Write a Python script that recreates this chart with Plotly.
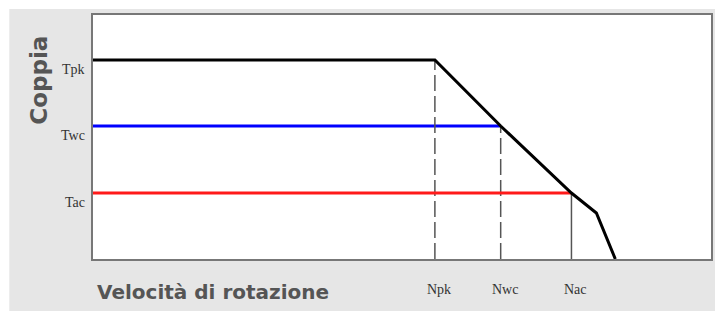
import plotly.graph_objects as go

# ---- data (chart units: x = speed, y = torque) ----
torque_labels = ["Tpk", "Twc", "Tac"]
torque_values = [199, 133, 66]
speed_labels = ["Npk", "Nwc", "Nac"]
speed_values = [343, 409, 480]
curve_x = [0, 343, 409, 480, 505, 524]
curve_y = [199, 199, 133, 66, 46, 0]

X_MAX = 620
Y_MAX = 244

fig = go.Figure()

# horizontal continuous-torque lines
fig.add_trace(go.Scatter(x=[0, speed_values[1]], y=[torque_values[1]] * 2, mode="lines",
                         line=dict(color="#0000ff", width=3), hoverinfo="skip"))

# vertical speed markers
dashes = ["16px,5px", "16px,5px", "solid"]
for sx, ty, d in zip(speed_values, torque_values, dashes):
    fig.add_trace(go.Scatter(x=[sx, sx], y=[0, ty], mode="lines",
                             line=dict(color="#555555", width=1.5, dash=d), hoverinfo="skip"))

# red line (over the dashed markers)
fig.add_trace(go.Scatter(x=[0, speed_values[2]], y=[torque_values[2]] * 2, mode="lines",
                         line=dict(color="#ff1a1a", width=3), hoverinfo="skip"))

# peak torque curve
fig.add_trace(go.Scatter(x=curve_x, y=curve_y, mode="lines",
                         line=dict(color="#000000", width=3), hoverinfo="skip"))

# tick labels as annotations
for lab, ty in zip(torque_labels, torque_values):
    fig.add_annotation(x=0, y=ty, xref="paper", yref="y", text=lab, showarrow=False,
                       xanchor="right", yanchor="middle", xshift=-6, yshift=-9,
                       font=dict(family="Liberation Serif", size=14, color="#333333"))
for lab, sx in zip(speed_labels, speed_values):
    fig.add_annotation(x=sx, y=0, xref="x", yref="paper", text=lab, showarrow=False,
                       xanchor="center", yanchor="middle", xshift=4, yshift=-30,
                       font=dict(family="Liberation Serif", size=14, color="#333333"))

# axis titles
fig.add_annotation(x=(38.5 - 93) / 620, y=(259 - 80) / 244, xref="paper", yref="paper",
                   text="<b>Coppia</b>", showarrow=False, textangle=-90,
                   xanchor="center", yanchor="middle",
                   font=dict(family="DejaVu Sans", size=23, color="#555555"))
fig.add_annotation(x=(213.5 - 93) / 620, y=(259 - 292) / 244, xref="paper", yref="paper",
                   text="<b>Velocità di rotazione</b>", showarrow=False,
                   xanchor="center", yanchor="middle",
                   font=dict(family="DejaVu Sans", size=20, color="#555555"))

# white strips outside the gray panel
fig.add_shape(type="rect", xref="paper", yref="paper", x0=-100 / 620, x1=(9 - 93) / 620,
              y0=-1, y1=2, fillcolor="white", line=dict(width=0), layer="above")
fig.add_shape(type="rect", xref="paper", yref="paper", x0=-1, x1=2,
              y0=1 + 6 / 244, y1=1 + 20 / 244, fillcolor="white", line=dict(width=0), layer="above")

axis_common = dict(showgrid=False, zeroline=False, showticklabels=False, ticks="",
                   showline=True, linecolor="#777777", linewidth=2, mirror=True, fixedrange=True)

fig.update_layout(
    width=715, height=311,
    margin=dict(l=93, r=2, t=15, b=52),
    paper_bgcolor="#e6e6e6", plot_bgcolor="white",
    showlegend=False,
    xaxis=dict(range=[0, X_MAX], **axis_common),
    yaxis=dict(range=[0, Y_MAX], **axis_common),
)

fig.write_html("out.html", config={"displayModeBar": False},
               post_script="document.body.style.margin='0';document.body.style.overflow='hidden';")
